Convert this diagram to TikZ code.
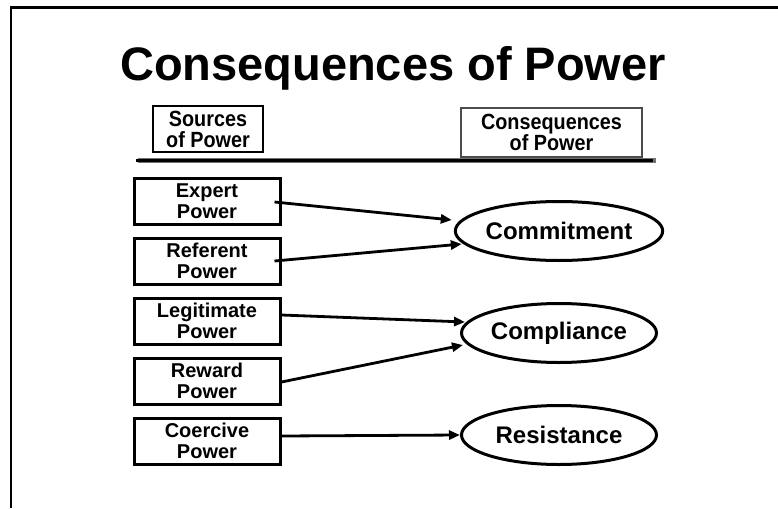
\documentclass[tikz,border=0pt]{standalone}
\usepackage{fontspec}
\setmainfont{Liberation Sans}
\newfontfamily\hdrfont[FakeStretch=0.9]{Liberation Sans}
\usetikzlibrary{shapes.geometric,arrows.meta}
\tikzset{
  x=1pt,y=-1pt,
  srcbox/.style={draw,line width=3pt,minimum width=146pt,minimum height=46pt,inner sep=0pt,align=center,
    font=\fontsize{20}{20.5}\selectfont\bfseries},
  hdrbox/.style={draw,line width=1.4pt,fill=white,inner sep=0pt,align=center,
    font=\hdrfont\fontsize{22}{21}\selectfont\bfseries},
  consell/.style={draw,ellipse,line width=3pt,minimum width=195pt,minimum height=59pt,inner sep=0pt,
    font=\fontsize{24}{26}\selectfont\bfseries},
  conn/.style={line width=2.8pt,-{Triangle[length=11pt,width=9pt]}},
  frameline/.style={line width=2.4pt,black}
}
\begin{document}
\begin{tikzpicture}
\useasboundingbox (0,0) rectangle (778,508);
% frame
\draw[frameline] (11,508) -- (11,7.5) -- (778,7.5);
% title
\node[anchor=base,inner sep=0pt,font=\fontsize{47}{50}\selectfont\bfseries] (title) at (393,81) {Consequences of Power};
% headers
\node[hdrbox,minimum width=110pt,minimum height=46pt] (hsrc) at (208,129) {Sources\\of Power};
\node[hdrbox,draw=black!70,minimum width=181pt,minimum height=49pt] (hcon) at (551.5,132.5) {Consequences\\of Power};
% rule
\draw[line width=5pt,black!55] (138,160) -- (656,160);
\draw[line width=3.5pt,black] (136,160.5) -- (653,160.5);
% source boxes
\node[srcbox] (e) at (207,201) {Expert\\Power};
\node[srcbox] (r) at (207,261) {Referent\\Power};
\node[srcbox] (l) at (207,321) {Legitimate\\Power};
\node[srcbox] (w) at (207,381) {Reward\\Power};
\node[srcbox] (c) at (207,441) {Coercive\\Power};
% consequences
\node[consell] (cm) at (559,231) {Commitment};
\node[consell] (cp) at (559,333) {Compliance};
\node[consell] (rs) at (559,435) {Resistance};
% connectors
\draw[conn] ([shift={(-7,1)}]e.east) -- ([shift={(-2,-11)}]cm.west);
\draw[conn] ([shift={(-7,0)}]r.east) -- ([shift={(8,13)}]cm.west);
\draw[conn] ([shift={(0,-6)}]l.east) -- ([shift={(5,-11)}]cp.west);
\draw[conn] ([shift={(0,1)}]w.east) -- ([shift={(3,12)}]cp.west);
\draw[conn] ([shift={(0,-5)}]c.east) -- ([shift={(0,0)}]rs.west);
\end{tikzpicture}
\end{document}
